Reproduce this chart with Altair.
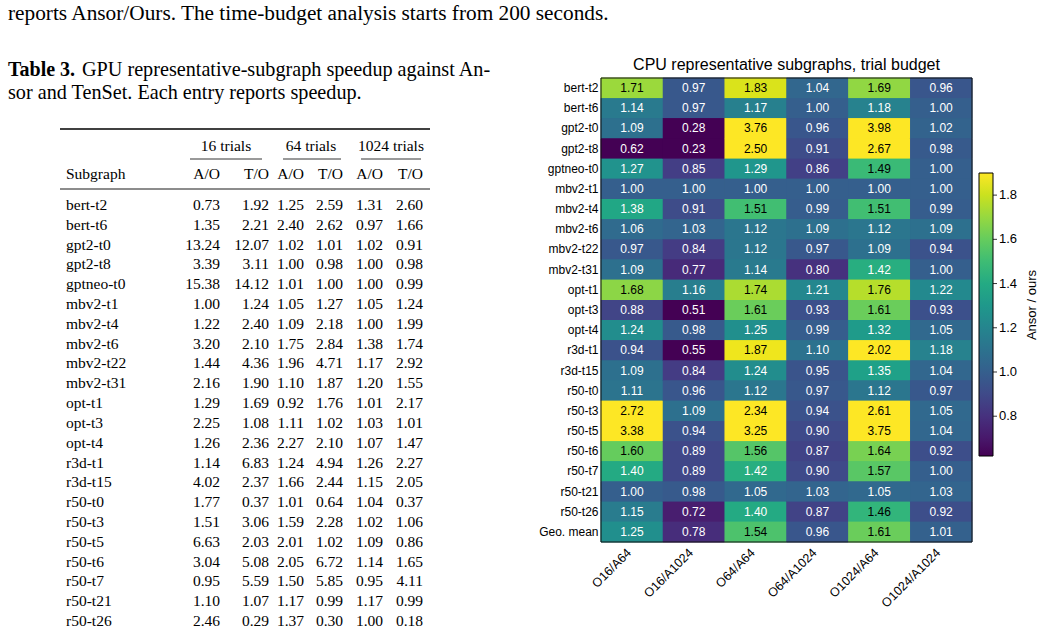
import altair as alt
import pandas as pd

# ---------------- heatmap data ----------------
budgets = ["O16/A64", "O16/A1024", "O64/A64", "O64/A1024", "O1024/A64", "O1024/A1024"]
subgraphs = ["bert-t2", "bert-t6", "gpt2-t0", "gpt2-t8", "gptneo-t0", "mbv2-t1", "mbv2-t4",
             "mbv2-t6", "mbv2-t22", "mbv2-t31", "opt-t1", "opt-t3", "opt-t4", "r3d-t1",
             "r3d-t15", "r50-t0", "r50-t3", "r50-t5", "r50-t6", "r50-t7", "r50-t21",
             "r50-t26", "Geo. mean"]
o16_a64 = [1.71, 1.14, 1.09, 0.62, 1.27, 1.00, 1.38, 1.06, 0.97, 1.09, 1.68, 0.88, 1.24,
           0.94, 1.09, 1.11, 2.72, 3.38, 1.60, 1.40, 1.00, 1.15, 1.25]
o16_a1024 = [0.97, 0.97, 0.28, 0.23, 0.85, 1.00, 0.91, 1.03, 0.84, 0.77, 1.16, 0.51, 0.98,
             0.55, 0.84, 0.96, 1.09, 0.94, 0.89, 0.89, 0.98, 0.72, 0.78]
o64_a64 = [1.83, 1.17, 3.76, 2.50, 1.29, 1.00, 1.51, 1.12, 1.12, 1.14, 1.74, 1.61, 1.25,
           1.87, 1.24, 1.12, 2.34, 3.25, 1.56, 1.42, 1.05, 1.40, 1.54]
o64_a1024 = [1.04, 1.00, 0.96, 0.91, 0.86, 1.00, 0.99, 1.09, 0.97, 0.80, 1.21, 0.93, 0.99,
             1.10, 0.95, 0.97, 0.94, 0.90, 0.87, 0.90, 1.03, 0.87, 0.96]
o1024_a64 = [1.69, 1.18, 3.98, 2.67, 1.49, 1.00, 1.51, 1.12, 1.09, 1.42, 1.76, 1.61, 1.32,
             2.02, 1.35, 1.12, 2.61, 3.75, 1.64, 1.57, 1.05, 1.46, 1.61]
o1024_a1024 = [0.96, 1.00, 1.02, 0.98, 1.00, 1.00, 0.99, 1.09, 0.94, 1.00, 1.22, 0.93, 1.05,
               1.18, 1.04, 0.97, 1.05, 1.04, 0.92, 1.00, 1.03, 0.92, 1.01]
color_ticks = [0.8, 1.0, 1.2, 1.4, 1.6, 1.8]

# ---------------- table data ----------------
table_rows = ["bert-t2", "bert-t6", "gpt2-t0", "gpt2-t8", "gptneo-t0", "mbv2-t1", "mbv2-t4",
              "mbv2-t6", "mbv2-t22", "mbv2-t31", "opt-t1", "opt-t3", "opt-t4", "r3d-t1",
              "r3d-t15", "r50-t0", "r50-t3", "r50-t5", "r50-t6", "r50-t7", "r50-t21", "r50-t26"]
a16 = [0.73, 1.35, 13.24, 3.39, 15.38, 1.00, 1.22, 3.20, 1.44, 2.16, 1.29, 2.25, 1.26, 1.14,
       4.02, 1.77, 1.51, 6.63, 3.04, 0.95, 1.10, 2.46]
t16 = [1.92, 2.21, 12.07, 3.11, 14.12, 1.24, 2.40, 2.10, 4.36, 1.90, 1.69, 1.08, 2.36, 6.83,
       2.37, 0.37, 3.06, 2.03, 5.08, 5.59, 1.07, 0.29]
a64 = [1.25, 2.40, 1.02, 1.00, 1.01, 1.05, 1.09, 1.75, 1.96, 1.10, 0.92, 1.11, 2.27, 1.24,
       1.66, 1.01, 1.59, 2.01, 2.05, 1.50, 1.17, 1.37]
t64 = [2.59, 2.62, 1.01, 0.98, 1.00, 1.27, 2.18, 2.84, 4.71, 1.87, 1.76, 1.02, 2.10, 4.94,
       2.44, 0.64, 2.28, 1.02, 6.72, 5.85, 0.99, 0.30]
a1024 = [1.31, 0.97, 1.02, 1.00, 1.00, 1.05, 1.00, 1.38, 1.17, 1.20, 1.01, 1.03, 1.07, 1.26,
         1.15, 1.04, 1.02, 1.09, 1.14, 0.95, 1.17, 1.00]
t1024 = [2.60, 1.66, 0.91, 0.98, 0.99, 1.24, 1.99, 1.74, 2.92, 1.55, 2.17, 1.01, 1.47, 2.27,
         2.05, 0.37, 1.06, 0.86, 1.65, 4.11, 0.99, 0.18]
group_heads = ["16 trials", "64 trials", "1024 trials"]
col_heads = ["A/O", "T/O", "A/O", "T/O", "A/O", "T/O"]

top_line = "reports Ansor/Ours. The time-budget analysis starts from 200 seconds."
cap_bold = "Table 3."
cap_rest = "GPU representative-subgraph speedup against An-"
cap_line2 = "sor and TenSet. Each entry reports speedup."

# ---------------- frames ----------------
heat_cols = [o16_a64, o16_a1024, o64_a64, o64_a1024, o1024_a64, o1024_a1024]
heat_df = pd.DataFrame(
    [{"subgraph": s, "budget": b, "value": v}
     for b, col in zip(budgets, heat_cols) for s, v in zip(subgraphs, col)]
)
table_df = pd.DataFrame({"row": table_rows, "a16": a16, "t16": t16, "a64": a64,
                         "t64": t64, "a1024": a1024, "t1024": t1024})

SANS = "Liberation Sans"
SERIF = "Liberation Serif"

HX0, HX1, HY0, HY1 = 601, 972, 78, 542
CB_TOP, CB_BOT = 173, 456
CMIN, CMAX = 0.62, 1.9


def hx(axis=None):
    return alt.X("budget:N", sort=budgets,
                 scale=alt.Scale(range=[HX0, HX1], paddingInner=0, paddingOuter=0),
                 axis=axis)


def hy(axis=None):
    return alt.Y("subgraph:N", sort=subgraphs,
                 scale=alt.Scale(range=[HY0, HY1], paddingInner=0, paddingOuter=0),
                 axis=axis)


def cscale():
    return alt.Scale(scheme="viridis", domain=[CMIN, CMAX], clamp=True)


x_axis = alt.Axis(orient="bottom", offset=HY1 - 636, title=None, labelAngle=-45,
                  labelFont=SANS, labelFontSize=12.5, labelColor="black", ticks=False,
                  domain=False, labelPadding=4, labelOffset=-7, grid=False)
y_axis = alt.Axis(orient="left", offset=-HX0, title=None, labelFont=SANS,
                  labelFontSize=12, labelColor="black", ticks=False, domain=False,
                  labelPadding=3, grid=False)

# underlay: same cells with a stroke of their own colour, hides anti-alias seams
heat_under = alt.Chart(heat_df).mark_rect(strokeWidth=1).encode(
    x=hx(x_axis),
    y=hy(y_axis),
    color=alt.Color("value:Q", scale=cscale(), legend=None),
    stroke=alt.Stroke("value:Q", scale=cscale(), legend=None),
)

heat_rect = alt.Chart(heat_df).mark_rect().encode(
    x=hx(),
    y=hy(),
    color=alt.Color("value:Q", scale=cscale(),
                    legend=alt.Legend(orient="none", legendX=979, legendY=CB_TOP,
                                      direction="vertical", gradientLength=CB_BOT - CB_TOP,
                                      gradientThickness=14, title=None,
                                      values=color_ticks, format=".1f",
                                      labelFont=SANS, labelFontSize=13,
                                      labelColor="black", labelOffset=6,
                                      gradientStrokeColor="black",
                                      gradientStrokeWidth=1)),
)

heat_text = alt.Chart(heat_df).mark_text(font=SANS, fontSize=12, baseline="middle").encode(
    x=hx(),
    y=hy(),
    text=alt.Text("value:Q", format=".2f"),
    color=alt.condition(alt.datum.value > 1.44, alt.value("black"), alt.value("white")),
)

one = pd.DataFrame({"k": [0]})

frame = alt.Chart(one).mark_rect(filled=False, stroke="#111111", strokeWidth=1).encode(
    x=alt.value(HX0), x2=alt.value(HX1), y=alt.value(HY0), y2=alt.value(HY1))

cbar_ticks = alt.Chart(pd.DataFrame({"v": color_ticks})).mark_rule(
    color="black", strokeWidth=0.8).encode(
    y=alt.Y("v:Q", scale=alt.Scale(domain=[CMIN, CMAX], range=[CB_BOT, CB_TOP],
                                   nice=False, zero=False), axis=None),
    x=alt.value(993), x2=alt.value(997))

heat_title = alt.Chart(pd.DataFrame({"t": ["CPU representative subgraphs, trial budget"]})).mark_text(
    font=SANS, fontSize=16, align="center", baseline="middle", color="black").encode(
    text="t:N", x=alt.value((HX0 + HX1) / 2), y=alt.value(65))

cbar_title = alt.Chart(pd.DataFrame({"t": ["Ansor / ours"]})).mark_text(
    font=SANS, fontSize=13, align="center", baseline="middle", angle=270, color="black").encode(
    text="t:N", x=alt.value(1032), y=alt.value(305))

layers = [heat_under, heat_rect, heat_text, frame, cbar_ticks, heat_title, cbar_title]


# ---------------- table ----------------
def text_layer(txt, x, y, size=16, weight="normal", align="left"):
    return alt.Chart(pd.DataFrame({"t": [txt]})).mark_text(
        font=SERIF, fontSize=size, fontWeight=weight, align=align, baseline="middle",
        color="black").encode(text="t:N", x=alt.value(x), y=alt.value(y))


layers.append(text_layer(top_line, 8, 14, 21.3))
layers.append(text_layer(cap_bold, 8, 70, 20, "bold"))
layers.append(text_layer(cap_rest, 82, 70, 20.2))
layers.append(text_layer(cap_line2, 8, 93, 20.2))

for txt, cx in zip(group_heads, [226, 311, 391]):
    layers.append(text_layer(txt, cx, 146, 15.5, align="center"))

layers.append(text_layer("Subgraph", 66, 174, 15.5))
col_right = [220, 269, 304, 343, 383, 423]
for txt, rx in zip(col_heads, col_right):
    layers.append(text_layer(txt, rx, 174, 15.5, align="right"))


def rule(x0, x1, y, w):
    return alt.Chart(one).mark_rule(color="black", strokeWidth=w).encode(
        x=alt.value(x0), x2=alt.value(x1), y=alt.value(y))


layers.append(rule(60, 430, 129, 1.6))
for x0, x1 in [(190, 262), (283, 341), (361, 421)]:
    layers.append(rule(x0, x1, 159, 0.8))
layers.append(rule(60, 430, 189, 0.9))

ty = alt.Y("row:N", sort=table_rows, scale=alt.Scale(range=[205, 621], padding=0), axis=None)

layers.append(alt.Chart(table_df).mark_text(font=SERIF, fontSize=15.5, align="left",
                                            baseline="middle", color="black").encode(
    text="row:N", x=alt.value(66), y=ty))

for field, rx in zip(["a16", "t16", "a64", "t64", "a1024", "t1024"], col_right):
    layers.append(alt.Chart(table_df).mark_text(font=SERIF, fontSize=15.5, align="right",
                                                baseline="middle", color="black").encode(
        text=alt.Text(f"{field}:Q", format=".2f"), x=alt.value(rx), y=ty))

chart = alt.layer(*layers).resolve_scale(
    x="independent", y="independent", color="independent", stroke="independent"
).properties(
    width=1040, height=636, autosize="none", padding=0, background="white"
).configure_view(stroke=None)

chart.save("out.html", embed_options={"renderer": "svg", "actions": False})
